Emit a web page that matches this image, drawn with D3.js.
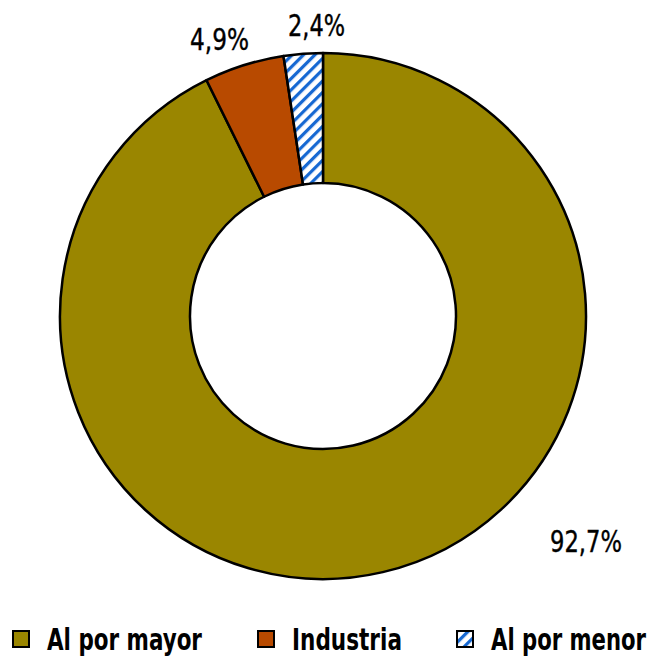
<!DOCTYPE html>
<html><head><meta charset="utf-8">
<script src="https://cdn.jsdelivr.net/npm/d3@7"></script>
<style>body{margin:0;background:#fff}svg{display:block}text{font-family:"DejaVu Sans Condensed","DejaVu Sans",sans-serif;font-stretch:condensed}</style>
</head><body>
<script>
const categories = ["Al por mayor", "Industria", "Al por menor"];
const values = [92.7, 4.9, 2.4];
const labels = ["92,7%", "4,9%", "2,4%"];
const colors = ["#9a8600", "#b84a00", "url(#hatch)"];

const W = 655, H = 657;
const svg = d3.select("body").append("svg").attr("width", W).attr("height", H);
const defs = svg.append("defs");
const pat = defs.append("pattern").attr("id", "hatch").attr("patternUnits", "userSpaceOnUse")
  .attr("width", 8).attr("height", 8).attr("patternTransform", "rotate(45)");
pat.append("rect").attr("width", 8).attr("height", 8).attr("fill", "#fff");
pat.append("rect").attr("x", 0).attr("width", 3.2).attr("height", 8).attr("fill", "#1668d2");

const cx = 323, cy = 316, R = 263, r = 133;
const pie = d3.pie().sort(null).value(d => d)(values);
const arc = d3.arc().innerRadius(r).outerRadius(R);
const g = svg.append("g").attr("transform", `translate(${cx},${cy})`);
g.selectAll("path").data(pie).join("path")
  .attr("d", arc).attr("fill", (d, i) => colors[i])
  .attr("stroke", "#000").attr("stroke-width", 2.5).attr("stroke-linejoin", "round");

// fit a text to a target width by horizontal scaling
function fit(sel, x, y, w) {
  sel.each(function(d, i) {
    const t = d3.select(this);
    const nat = this.getComputedTextLength();
    const sx = w(d, i) / nat;
    t.attr("transform", `translate(${x(d, i)},${y(d, i)}) scale(${sx},1)`);
  });
}

// labels
const labelPos = [[550, 552, 72], [190, 50, 59], [288, 36, 57]];
const lbl = svg.selectAll("text.lbl").data(labels).join("text").attr("class", "lbl")
  .attr("font-size", 31).attr("fill", "#000").attr("stroke", "#000").attr("stroke-width", 0.4)
  .text(d => d);
fit(lbl, (d, i) => labelPos[i][0], (d, i) => labelPos[i][1], (d, i) => labelPos[i][2]);

// legend
const legX = [12, 257, 456];
const legW = [155, 110, 155];
const lg = svg.selectAll("g.leg").data(categories).join("g").attr("class", "leg")
  .attr("transform", (d, i) => `translate(${legX[i]},630)`);
lg.append("rect").attr("x", 1).attr("y", 1).attr("width", 16).attr("height", 16)
  .attr("fill", (d, i) => colors[i]).attr("stroke", "#000").attr("stroke-width", 2);
const lt = lg.append("text").attr("font-size", 30).attr("font-weight", "bold")
  .attr("fill", "#000").text(d => d);
fit(lt, () => 35, () => 20, (d, i) => legW[i]);
</script>
</body></html>
